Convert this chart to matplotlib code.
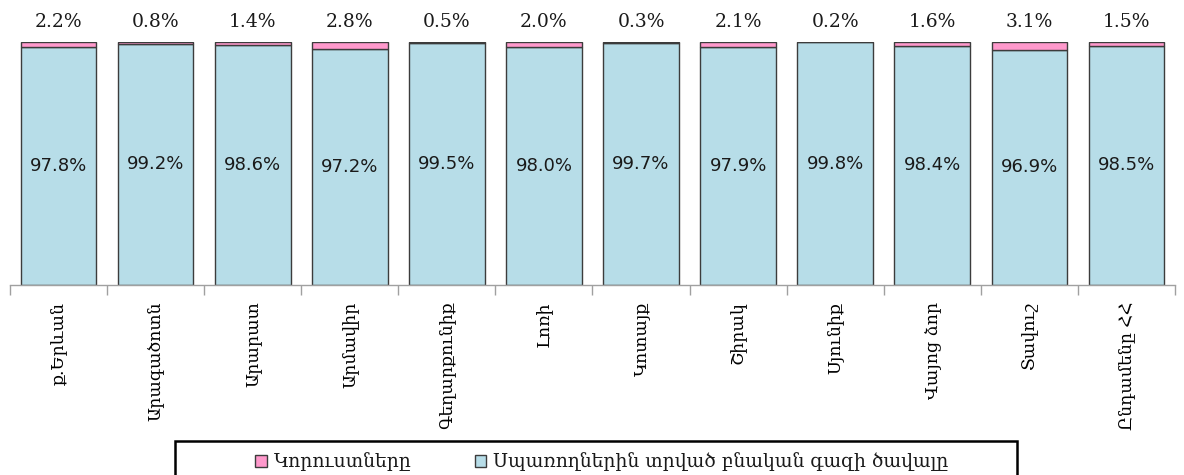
import matplotlib
matplotlib.use("Agg")
import matplotlib.pyplot as plt
from matplotlib.patches import Rectangle
import numpy as np

regions = ["ք.Երևան", "Արագածոտն", "Արարատ", "Արմավիր", "Գեղարքունիք", "Լոռի",
           "Կոտայք", "Շիրակ", "Սյունիք", "Վայոց ձոր", "Տավուշ", "Ընդամենը ՀՀ"]
consumed = [97.8, 99.2, 98.6, 97.2, 99.5, 98.0, 99.7, 97.9, 99.8, 98.4, 96.9, 98.5]
losses = [2.2, 0.8, 1.4, 2.8, 0.5, 2.0, 0.3, 2.1, 0.2, 1.6, 3.1, 1.5]
legend_losses = "Կորուստները"
legend_consumed = "Սպառողներին տրված բնական գազի ծավալը"

SERIF = ["DejaVu Serif", "DejaVu Sans"]
SANS = ["DejaVu Sans"]
BLUE = "#B7DDE8"
PINK = "#FF99CC"
EDGE = "#3C3C3C"

W, H = 1184, 475
fig = plt.figure(figsize=(W / 100, H / 100), dpi=100)
ax = fig.add_axes([10 / W, 1 - 285 / H, 1165 / W, 243 / H])

x = np.arange(len(regions))
b1 = ax.bar(x, consumed, width=0.78, color=BLUE, edgecolor=EDGE, linewidth=1.0,
            label=legend_consumed)
b2 = ax.bar(x, losses, width=0.78, bottom=consumed, color=PINK, edgecolor=EDGE,
            linewidth=1.0, label=legend_losses)

for i, (c, l) in enumerate(zip(consumed, losses)):
    ax.text(i, c / 2, f"{c:.1f}%", ha="center", va="center", fontsize=13,
            family=SANS, color="#1a1a1a")
    ax.annotate(f"{l:.1f}%", (i, c + l), xytext=(0, 8), textcoords="offset points",
                ha="center", va="bottom", fontsize=13.5, family=SERIF,
                color="#1a1a1a", annotation_clip=False)

ax.set_xlim(-0.5, len(regions) - 0.5)
ax.set_ylim(0, 100)
for s in ["top", "right", "left"]:
    ax.spines[s].set_visible(False)
ax.spines["bottom"].set_color("#A0A0A0")
ax.spines["bottom"].set_linewidth(1.0)
ax.set_yticks([])
ax.set_xticks(np.arange(-0.5, len(regions), 1.0))
ax.set_xticklabels([])
ax.tick_params(axis="x", which="major", length=7, color="#A0A0A0", width=1.0)
ax.set_xticks(x, minor=True)
ax.set_xticklabels(regions, minor=True, rotation=90, fontsize=12.5, family=SERIF,
                   va="top", ha="center")
ax.tick_params(axis="x", which="minor", length=0, pad=12)

leg = fig.legend([b2, b1], [legend_losses, legend_consumed], loc="center",
                 bbox_to_anchor=(602 / W, 1 - 462 / H), ncol=2, frameon=False,
                 prop={"family": SERIF, "size": 13.5},
                 handlelength=0.6, handleheight=0.6, handletextpad=0.37,
                 columnspacing=3.4, borderpad=0, borderaxespad=0)
for t in leg.get_texts():
    t.set_color("#1a1a1a")

fig.patches.append(Rectangle((175 / W, -0.02), (1017 - 175) / W, 1 - 441 / H + 0.02,
                             transform=fig.transFigure, fill=False,
                             edgecolor="black", linewidth=1.8))

fig.savefig("out.png", dpi=100)
